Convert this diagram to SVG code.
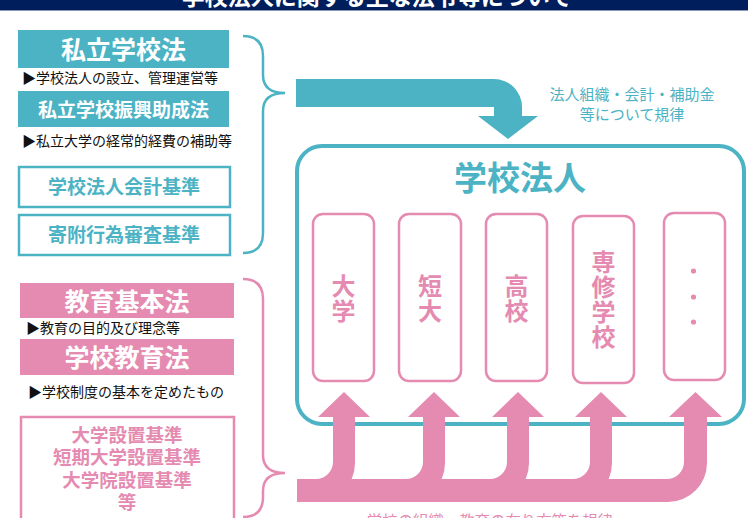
<svg xmlns="http://www.w3.org/2000/svg" width="748" height="518" viewBox="0 0 748 518">
<defs>
<style>
text{font-family:"Noto Sans CJK JP","Noto Sans CJK SC",sans-serif;}
.teal{fill:#4bb3c4;}
.pink{fill:#e58ab0;}
.hw{fill:#fff;font-weight:bold;text-anchor:middle;}
.note{fill:#111;font-size:14px;}
.tbox{fill:#fff;stroke:#4bb3c4;stroke-width:2.5;}
.pbox{fill:#fff;stroke:#e58ab0;stroke-width:2.5;}
.tt{fill:#4bb3c4;font-weight:bold;text-anchor:middle;}
.pt{fill:#e58ab0;font-weight:bold;text-anchor:middle;}
.brace{fill:none;stroke-width:2.5;}
.school{fill:#fff;stroke:#e58ab0;stroke-width:2.5;}
</style>
</defs>
<rect width="748" height="518" fill="#fff"/>
<g id="title">
<rect x="0" y="0" width="748" height="10" fill="#001e5c"/>
<rect x="0" y="10" width="748" height="1" fill="#8a97b8"/>
<text x="377" y="4.5" class="hw" font-size="23">学校法人に関する主な法令等について</text>
</g>

<g id="n-shiritsu">
<rect x="18" y="30" width="211" height="38" class="teal"/>
<text x="123.5" y="59" class="hw" font-size="25">私立学校法</text>
<text x="22" y="83" class="note">▶学校法人の設立、管理運営等</text>
</g>
<g id="n-shinko">
<rect x="18" y="91" width="211" height="36" class="teal"/>
<text x="123.5" y="117" class="hw" font-size="19">私立学校振興助成法</text>
<text x="22" y="146" class="note">▶私立大学の経常的経費の補助等</text>
</g>
<g id="n-kaikei">
<rect x="19" y="167" width="211" height="40" class="tbox"/>
<text x="124" y="194" class="tt" font-size="19">学校法人会計基準</text>
</g>
<g id="n-kifu">
<rect x="19" y="215" width="211" height="40" class="tbox"/>
<text x="124" y="242" class="tt" font-size="19">寄附行為審査基準</text>
</g>

<g id="n-kyoikukihon">
<rect x="20" y="283" width="214" height="35" class="pink"/>
<text x="127" y="311" class="hw" font-size="25">教育基本法</text>
<text x="26" y="333" class="note">▶教育の目的及び理念等</text>
</g>
<g id="n-gakkokyoiku">
<rect x="20" y="339" width="214" height="36" class="pink"/>
<text x="127" y="367" class="hw" font-size="25">学校教育法</text>
<text x="28" y="397" class="note">▶学校制度の基本を定めたもの</text>
</g>
<g id="n-secchi">
<rect x="21" y="417" width="213" height="110" class="pbox"/>
<text class="pt" font-size="18.5"><tspan x="127" y="442">大学設置基準</tspan><tspan x="127" y="464">短期大学設置基準</tspan><tspan x="127" y="487">大学院設置基準</tspan><tspan x="127" y="509">等</tspan></text>
</g>

<g id="n-houjin">
<rect x="297" y="146" width="447" height="278" rx="25" fill="#fff" stroke="#4bb3c4" stroke-width="4"/>
<text x="520" y="190" class="tt" font-size="33">学校法人</text>
</g>
<g id="n-daigaku">
<rect x="313" y="214" width="61" height="167" rx="10" class="school"/>
<text class="pt" font-size="24"><tspan x="343.5" y="295">大</tspan><tspan x="343.5" y="320">学</tspan></text>
</g>
<g id="n-tandai">
<rect x="399" y="214" width="62" height="167" rx="10" class="school"/>
<text class="pt" font-size="24"><tspan x="430" y="295">短</tspan><tspan x="430" y="320">大</tspan></text>
</g>
<g id="n-koko">
<rect x="486" y="214" width="61" height="167" rx="10" class="school"/>
<text class="pt" font-size="24"><tspan x="516.5" y="295">高</tspan><tspan x="516.5" y="320">校</tspan></text>
</g>
<g id="n-senshu">
<rect x="573" y="216" width="61" height="167" rx="10" class="school"/>
<text class="pt" font-size="24"><tspan x="603.5" y="271">専</tspan><tspan x="603.5" y="296">修</tspan><tspan x="603.5" y="321">学</tspan><tspan x="603.5" y="346">校</tspan></text>
</g>
<g id="n-etc">
<rect x="664" y="213" width="61" height="167" rx="10" class="school"/>
<circle cx="693.5" cy="271" r="2.6" class="pink"/>
<circle cx="693.5" cy="297" r="2.6" class="pink"/>
<circle cx="693.5" cy="322" r="2.6" class="pink"/>
</g>

<g id="connectors">
<path class="brace" stroke="#4bb3c4" d="M243,36 Q263,36 263,56 V75 Q263,93 285,93 Q263,93 263,111 V233 Q263,253 243,253"/>
<path class="brace" stroke="#e58ab0" d="M243,279 Q263,279 263,299 V455 Q263,473 285,473 Q263,473 263,491 V497 Q263,517 243,517"/>
<path class="teal" d="M296,79 H494 A28,28 0 0 1 522,107 V116 H538 L508,139 L478,116 H494 V107 H296 Z"/>
<text x="632" y="100" class="teal" font-size="15" text-anchor="middle">法人組織・会計・補助金</text>
<text x="632" y="120" class="teal" font-size="15" text-anchor="middle">等について規律</text>
<path class="pink" d="M297,479 H316 A17,17 0 0 0 333,462 V417 H318 L344,392 L370,417 H355 V463 A39,39 0 0 1 316,502 H297 Z"/>
<path class="pink" d="M297,479 H406 A17,17 0 0 0 423,462 V417 H408 L434,392 L460,417 H445 V463 A39,39 0 0 1 406,502 H297 Z"/>
<path class="pink" d="M297,479 H490 A17,17 0 0 0 507,462 V417 H492 L518,392 L544,417 H529 V463 A39,39 0 0 1 490,502 H297 Z"/>
<path class="pink" d="M297,479 H573 A17,17 0 0 0 590,462 V417 H575 L601,392 L627,417 H612 V463 A39,39 0 0 1 573,502 H297 Z"/>
<path class="pink" d="M297,479 H667 A17,17 0 0 0 684,462 V417 H669 L695.5,392 L722,417 H707 V463 A39,39 0 0 1 668,502 H297 Z"/>
<text x="490" y="527" class="pink" font-size="15.4" text-anchor="middle">学校の組織、教育の在り方等を規律</text>
</g>
</svg>
